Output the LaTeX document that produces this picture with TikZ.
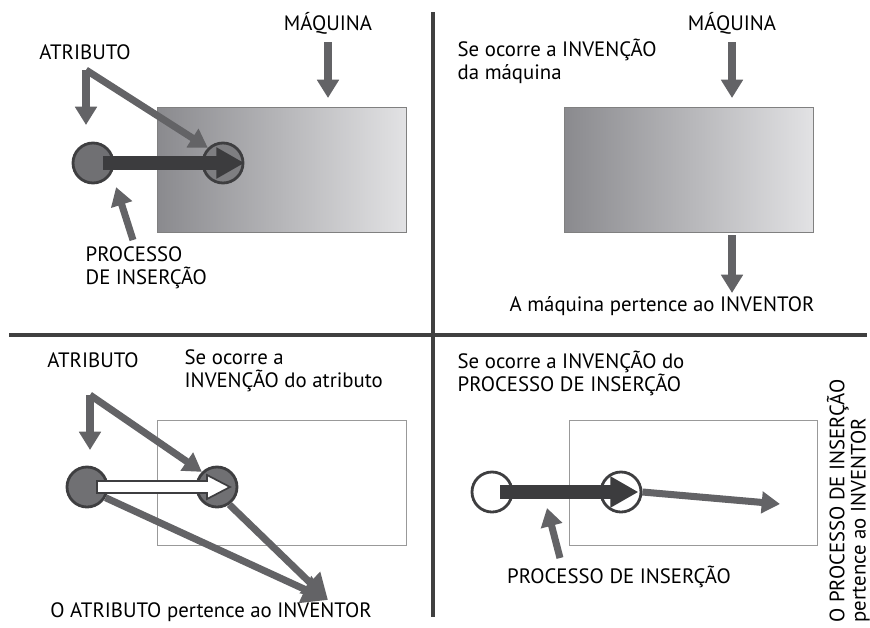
\documentclass[tikz,border=0pt]{standalone}
\usepackage{fontspec}
\setmainfont{PT Sans}
\usetikzlibrary{positioning,arrows.meta,calc}

\definecolor{arrgray}{HTML}{636366}
\definecolor{darkarr}{HTML}{3C3C3E}
\definecolor{ringgray}{HTML}{3E3E40}
\definecolor{ballfill}{HTML}{707073}
\definecolor{boxleft}{HTML}{8A8A8E}
\definecolor{boxright}{HTML}{E2E2E4}

\tikzset{
  grayarr/.style={draw=arrgray,line width=5pt,-{Triangle[length=13pt,width=15pt]}},
  widearr/.style={draw=arrgray,line width=5pt,-{Triangle[length=18pt,width=20pt]}},
  bigarr/.style={draw=darkarr,line width=10.5pt,-{Triangle[length=20pt,width=21pt]}},
  ball/.style={circle,draw=ringgray,line width=2pt,minimum size=1cm,inner sep=0pt},
  machine/.style={draw=gray,line width=0.6pt,left color=boxleft,right color=boxright},
  emptybox/.style={draw=gray!80,line width=0.5pt},
  divider/.style={draw=black!75,line width=3pt},
  label/.style={inner sep=1pt,align=left}
}

\begin{document}
\begin{tikzpicture}[x=0.025cm,y=-0.025cm,font=\fontsize{14.8}{16.3}\selectfont]
  \useasboundingbox (0,0) rectangle (870,627);
  % dividers
  \draw[divider] (433,12) -- (433,617);
  \draw[divider] (9,335) -- (867,335);

  % top left
  \draw[machine] (157,107) rectangle (406,232);
  \node[label] (maq1) at (328,23) {MÁQUINA};
  \node[label] (atr1) at (85,52) {ATRIBUTO};
  \node[label,anchor=west] (proc1) at (84,268) {PROCESSO\\DE INSERÇÃO};
  \node[ball,fill=ballfill] (l1) at (93,163) {};
  \node[ball,fill=ballfill!90] (r1) at (223,163) {};
  \coordinate (c1) at (86,70);
  \coordinate (p1) at (133,240);
  \draw[grayarr] (328,42) -- (328,98);
  \draw[grayarr] (c1) -- (86,125);
  \draw[grayarr,line join=round] (c1) -- (r1.north west);
  \draw[grayarr] (p1) -- ([shift={(8,9)}]l1.south east);
  \draw[bigarr] ([xshift=0.25cm]l1.center) -- (r1.east);

  % top right
  \draw[machine] (564,107) rectangle (813,232);
  \node[label] (maq2) at (732,23) {MÁQUINA};
  \node[label,anchor=west] (inv2) at (456,61) {Se ocorre a INVENÇÃO\\da máquina};
  \node[label] (own2) at (662,306) {A máquina pertence ao INVENTOR};
  \draw[grayarr] (732,42) -- (732,98);
  \draw[grayarr] (732,235) -- (732,293);

  % bottom left
  \draw[emptybox] (157,420) rectangle (406,545);
  \node[label] (atr3) at (93,360) {ATRIBUTO};
  \node[label,anchor=west] (inv3) at (183,371) {Se ocorre a\\INVENÇÃO do atributo};
  \node[label] (own3) at (211,612) {O ATRIBUTO pertence ao INVENTOR};
  \node[ball,fill=ballfill] (l3) at (87,487) {};
  \node[ball,fill=ballfill] (r3) at (217,487) {};
  \coordinate (c3) at (90,395);
  \coordinate (t3) at (328,600);
  \draw[grayarr] (c3) -- (90,450);
  \draw[grayarr,line join=round] (c3) -- (r3.north west);
  \draw[widearr] (l3.-30) -- (t3);
  \draw[widearr] (r3.-55) -- (t3);
  \draw[fill=white,draw=ringgray,line width=1.2pt]
    ($(l3.center)+(10,-6)$) -- ($(r3.center)+(-10,-6)$) -- ($(r3.center)+(-10,-12)$)
    -- ($(r3.center)+(13,0)$) -- ($(r3.center)+(-10,12)$) -- ($(r3.center)+(-10,6)$)
    -- ($(l3.center)+(10,6)$) -- cycle;

  % bottom right
  \draw[emptybox] (569,420) rectangle (817,545);
  \node[label,anchor=west] (inv4) at (456,373) {Se ocorre a INVENÇÃO do\\PROCESSO DE INSERÇÃO};
  \node[label] (proc4) at (619,577) {PROCESSO DE INSERÇÃO};
  \node[label,rotate=90,anchor=south west,inner sep=0pt,
    font=\fontsize{14.8}{15}\selectfont] (own4) at (870,623)
    {O PROCESSO DE INSERÇÃO\\pertence ao INVENTOR};
  \node[ball,fill=white] (l4) at (492,492) {};
  \node[ball,fill=white] (r4) at (621,492) {};
  \coordinate (t4) at (780,504);
  \coordinate (p4) at (560,558);
  \draw[grayarr] (r4.east) -- (t4);
  \draw[grayarr] (p4) -- (547,508);
  \draw[bigarr] ([xshift=0.2cm]l4.center) -- ([xshift=-0.1cm]r4.east);
\end{tikzpicture}
\end{document}
